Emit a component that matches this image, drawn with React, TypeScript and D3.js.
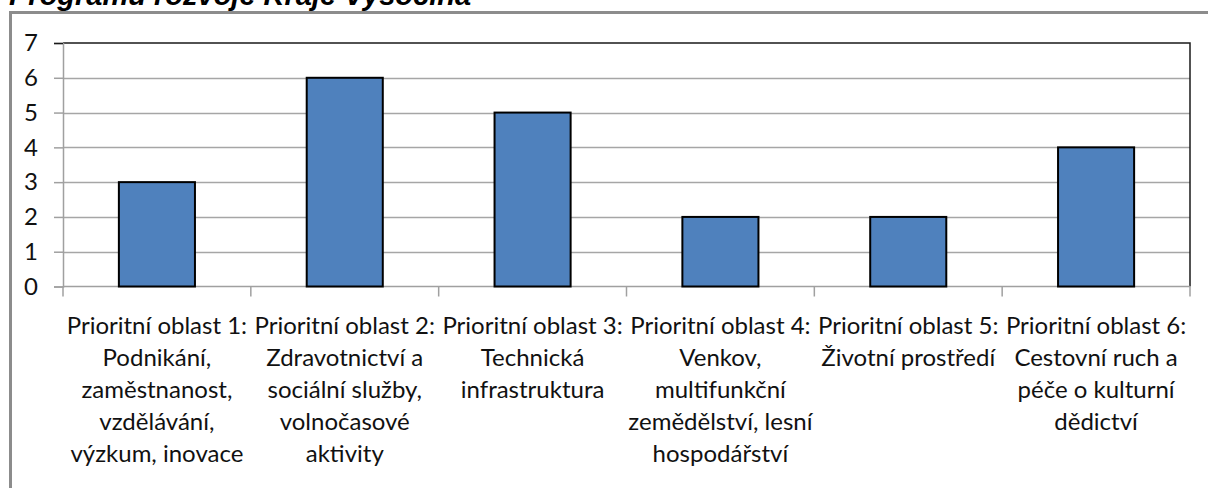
import React, { useEffect, useRef } from "react";
import * as d3 from "d3";

// data
const categories = ["PO1", "PO2", "PO3", "PO4", "PO5", "PO6"];
const values = [3, 6, 5, 2, 2, 4];
const labelLines = [
  ["Prioritní oblast 1:", "Podnikání,", "zaměstnanost,", "vzdělávání,", "výzkum, inovace"],
  ["Prioritní oblast 2:", "Zdravotnictví a", "sociální služby,", "volnočasové", "aktivity"],
  ["Prioritní oblast 3:", "Technická", "infrastruktura"],
  ["Prioritní oblast 4:", "Venkov,", "multifunkční", "zemědělství, lesní", "hospodářství"],
  ["Prioritní oblast 5:", "Životní prostředí"],
  ["Prioritní oblast 6:", "Cestovní ruch a", "péče o kulturní", "dědictví"],
];
const yTicks = [0, 1, 2, 3, 4, 5, 6, 7];
const title = "Programu rozvoje Kraje Vysočina";

const W = 1208;
const H = 488;
const plot = { left: 63, right: 1190, top: 43, bottom: 286.5 };

function App() {
  const ref = useRef<SVGSVGElement>(null);

  useEffect(() => {
    const svg = d3.select(ref.current);
    svg.selectAll("*").remove();

    const x = d3.scaleBand().domain(categories).range([plot.left, plot.right]);
    const y = d3.scaleLinear().domain([0, 7]).range([plot.bottom, plot.top]);

    // outer frame (cut off at right and bottom)
    svg.append("rect")
      .attr("x", 10.5).attr("y", 12.5)
      .attr("width", W + 20).attr("height", H + 20)
      .attr("fill", "#fff")
      .attr("stroke", "#8c8c8c").attr("stroke-width", 3);

    // title, mostly cut off at the top
    svg.append("text")
      .attr("x", 9).attr("y", 5)
      .attr("font-family", "'Liberation Sans', Arial, sans-serif")
      .attr("font-size", 29).attr("font-weight", "bold").attr("font-style", "italic")
      .attr("fill", "#000")
      .text(title);

    // gridlines
    svg.append("g").selectAll("line")
      .data(yTicks.filter((d) => d > 0 && d < 7))
      .join("line")
      .attr("x1", plot.left).attr("x2", plot.right)
      .attr("y1", (d) => Math.round(y(d)) + 0.5).attr("y2", (d) => Math.round(y(d)) + 0.5)
      .attr("stroke", "#a6a6a6").attr("stroke-width", 1.5);

    // plot area border top + right (dark)
    svg.append("path")
      .attr("d", `M${plot.left},${y(7)}H${plot.right}V${plot.bottom}`)
      .attr("fill", "none").attr("stroke", "#1a1a1a").attr("stroke-width", 1.5);

    // y axis
    const yAxis = d3.axisLeft(y).tickValues(yTicks).tickSize(9).tickFormat(d3.format("d"));
    const gy = svg.append("g").attr("transform", `translate(${plot.left},0)`).call(yAxis);
    gy.select(".domain").attr("stroke", "#a0a0a0").attr("stroke-width", 1.5);
    gy.selectAll(".tick line").attr("stroke", "#a0a0a0").attr("stroke-width", 1.5);
    gy.selectAll(".tick text")
      .attr("x", -25)
      .attr("font-family", "Lato, 'Open Sans', sans-serif")
      .attr("font-size", 24).attr("fill", "#111");
    gy.select(".tick:last-of-type line").attr("stroke", "#1a1a1a");

    // x axis baseline and boundary ticks
    svg.append("line")
      .attr("x1", plot.left).attr("x2", plot.right)
      .attr("y1", plot.bottom).attr("y2", plot.bottom)
      .attr("stroke", "#a0a0a0").attr("stroke-width", 1.5);
    const bounds = categories.map((c) => x(c) as number).concat([plot.right]);
    svg.append("g").selectAll("line")
      .data(bounds)
      .join("line")
      .attr("x1", (d) => d).attr("x2", (d) => d)
      .attr("y1", plot.bottom).attr("y2", plot.bottom + 10)
      .attr("stroke", "#a0a0a0").attr("stroke-width", 1.5);

    // bars
    const barW = x.bandwidth() * 0.405;
    svg.append("g").selectAll("rect")
      .data(values)
      .join("rect")
      .attr("x", (d, i) => (x(categories[i]) as number) + x.bandwidth() / 2 - barW / 2)
      .attr("y", (d) => y(d))
      .attr("width", barW)
      .attr("height", (d) => y(0) - y(d))
      .attr("fill", "#4f81bd")
      .attr("stroke", "#000").attr("stroke-width", 2);

    // category labels
    const lab = svg.append("g")
      .attr("font-family", "Lato, 'Open Sans', sans-serif")
      .attr("font-size", 24).attr("fill", "#111").attr("text-anchor", "middle");
    labelLines.forEach((lines, i) => {
      const cx = (x(categories[i]) as number) + x.bandwidth() / 2;
      const t = lab.append("text").attr("x", cx).attr("y", 334);
      lines.forEach((line, j) => {
        t.append("tspan").attr("x", cx).attr("y", 334 + j * 32).text(line);
      });
    });
  }, []);

  return (
    <svg
      ref={ref}
      width={W}
      height={H}
      style={{ position: "absolute", left: 0, top: 0, background: "#fff" }}
    />
  );
}

export default App;
